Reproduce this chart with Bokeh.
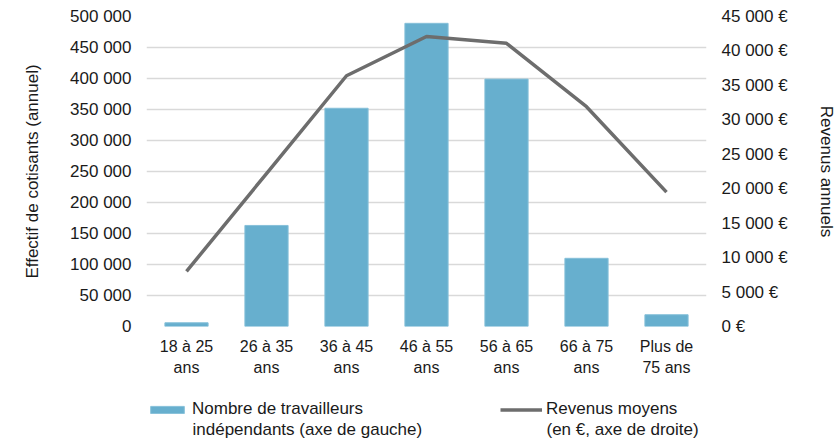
from bokeh.plotting import figure
from bokeh.layouts import column
from bokeh.models import (Range1d, LinearAxis, FixedTicker, Legend, LegendItem,
                          ColumnDataSource, Label)
from bokeh.embed import file_html
from bokeh.resources import INLINE

categories = ["18 à 25\nans", "26 à 35\nans", "36 à 45\nans", "46 à 55\nans",
              "56 à 65\nans", "66 à 75\nans", "Plus de\n75 ans"]
effectifs = [6000, 163000, 352000, 489000, 399000, 110000, 19000]
revenus = [8000, 22200, 36400, 42100, 41100, 31900, 19500]

left_ticks = [0, 50000, 100000, 150000, 200000, 250000, 300000, 350000, 400000, 450000, 500000]
left_tick_labels = ["0", "50 000", "100 000", "150 000", "200 000", "250 000",
                    "300 000", "350 000", "400 000", "450 000", "500 000"]
right_ticks = [0, 5000, 10000, 15000, 20000, 25000, 30000, 35000, 40000, 45000]
right_tick_labels = ["0 €", "5 000 €", "10 000 €", "15 000 €", "20 000 €", "25 000 €",
                     "30 000 €", "35 000 €", "40 000 €", "45 000 €"]

bar_label_lines = ["Nombre de travailleurs", "indépendants (axe de gauche)"]
line_label_lines = ["Revenus moyens", "(en €, axe de droite)"]
left_title = "Effectif de cotisants (annuel)"
right_title = "Revenus annuels"

FONT = "Liberation Sans"
TXT = "#1A1A1A"
FS = "17px"
FSX = "16px"
BAR_FILL = "#67AFCE"
BAR_EDGE = "#86C0D9"
LINE_COL = "#6D6D6D"

W = 839
H1 = 390
H2 = 52

p = figure(x_range=categories, y_range=Range1d(0, 500000), width=W, height=H1,
           output_backend="svg", toolbar_location=None,
           min_border_left=145, min_border_right=133, min_border_top=16, min_border_bottom=H1 - 326)
p.extra_y_ranges = {"rev": Range1d(0, 45000)}
p.outline_line_color = None
p.background_fill_color = "white"
p.border_fill_color = "white"

src = ColumnDataSource(dict(cat=categories, eff=effectifs, rev=revenus))
bars = p.vbar(x="cat", top="eff", width=0.54, source=src,
              fill_color=BAR_FILL, line_color=BAR_EDGE, line_width=1)
line = p.line(x="cat", y="rev", source=src, y_range_name="rev",
              line_color=LINE_COL, line_width=3.5)

p.xgrid.grid_line_color = None
p.ygrid.ticker = FixedTicker(ticks=left_ticks)
p.ygrid.grid_line_color = "#D9D9D9"
p.ygrid.grid_line_width = 1.5

ly = p.yaxis[0]
ly.ticker = FixedTicker(ticks=left_ticks)
ly.major_label_overrides = dict(zip(left_ticks, left_tick_labels))
ly.axis_label = left_title

ry = LinearAxis(y_range_name="rev", ticker=FixedTicker(ticks=right_ticks))
ry.major_label_overrides = dict(zip(right_ticks, right_tick_labels))
ry.axis_label = right_title
p.add_layout(ry, "right")

for ax in (ly, ry):
    ax.axis_line_color = None
    ax.major_tick_line_color = None
    ax.minor_tick_line_color = None
    ax.major_tick_out = 0
    ax.major_label_standoff = 15
    ax.major_label_text_font = FONT
    ax.major_label_text_font_size = FS
    ax.major_label_text_color = TXT
    ax.axis_label_text_font = FONT
    ax.axis_label_text_font_size = FS
    ax.axis_label_text_font_style = "normal"
    ax.axis_label_text_color = TXT
ly.axis_label_standoff = 25
ry.axis_label_standoff = 26

xa = p.xaxis[0]
xa.axis_line_color = None
xa.major_tick_line_color = None
xa.major_tick_out = 0
xa.major_label_standoff = 11
xa.major_label_text_font = FONT
xa.major_label_text_font_size = FSX
xa.major_label_text_color = TXT
xa.major_label_text_line_height = 1.25

# legend strip
q = figure(width=W, height=H2, x_range=Range1d(0, 1), y_range=Range1d(0, 1),
           output_backend="svg", toolbar_location=None,
           x_axis_type=None, y_axis_type=None,
           min_border_left=146, min_border_right=0, min_border_top=9, min_border_bottom=0)
q.outline_line_color = None
q.grid.grid_line_color = None
q.border_fill_color = "white"
q.background_fill_color = "white"
# off-canvas proxies so that the legend can draw its swatches
lb = q.vbar(x=[-1], top=[-1], bottom=[-1], width=0,
            fill_color=BAR_FILL, line_color=BAR_EDGE, line_width=1)
ll = q.line(x=[-1, -1], y=[-1, -1], line_color=LINE_COL, line_width=3.5)

legend = Legend(items=[LegendItem(label=bar_label_lines[0], renderers=[lb]),
                       LegendItem(label=line_label_lines[0], renderers=[ll])],
                location="top_left", orientation="horizontal", padding=0, margin=0,
                spacing=137, border_line_color=None, background_fill_alpha=0,
                glyph_width=42, glyph_height=9, label_standoff=4,
                label_text_font=FONT, label_text_font_size=FS,
                label_text_color=TXT, label_text_line_height=1.18)
q.add_layout(legend, "center")

for xoff, txt in ((46, bar_label_lines[1]), (400, line_label_lines[1])):
    q.add_layout(Label(x=xoff, y=13.5, x_units="screen", y_units="screen", text=txt,
                       text_font=FONT, text_font_size=FS, text_color=TXT,
                       text_align="left", text_baseline="middle"))

open("out.html", "w").write(file_html(column(p, q), INLINE))
